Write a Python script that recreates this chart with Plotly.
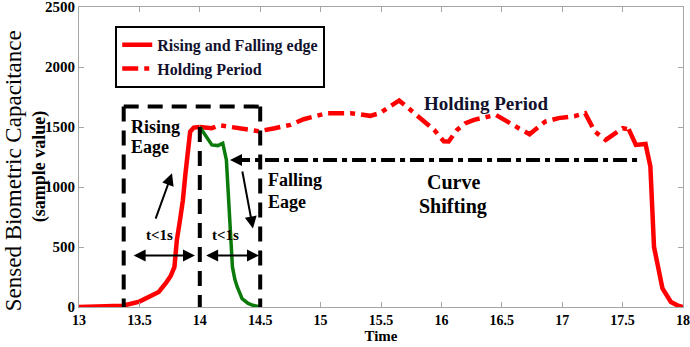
import plotly.graph_objects as go

# Rising edge (solid red)
rise_t = [13.0, 13.2, 13.36, 13.5, 13.58, 13.66, 13.72, 13.76, 13.79, 13.81, 13.84, 13.86, 13.88, 13.9, 13.92, 13.95, 14.0]
rise_v = [0, 2, 10, 45, 90, 125, 200, 260, 334, 557, 750, 890, 1100, 1310, 1460, 1495, 1500]

# Falling edge (green)
fall_t = [14.0, 14.05, 14.1, 14.15, 14.19, 14.22, 14.24, 14.26, 14.27, 14.29, 14.31, 14.35, 14.4, 14.44, 14.5]
fall_v = [1500, 1420, 1351, 1345, 1365, 1226, 891, 500, 334, 230, 167, 70, 30, 14, 0]

# Holding period (red dash-dot)
hold_t = [14.0, 14.1, 14.16, 14.33, 14.49, 14.62, 14.75, 14.86, 15.05, 15.25, 15.41, 15.49, 15.58, 15.65, 15.71,
          15.83, 15.94, 16.02, 16.06, 16.13, 16.2, 16.27, 16.45, 16.64, 16.73, 16.86, 16.97, 17.1, 17.19, 17.27,
          17.36, 17.5, 17.55]
hold_v = [1500, 1490, 1515, 1490, 1465, 1490, 1518, 1565, 1615, 1615, 1593, 1615, 1680, 1721, 1671,
          1574, 1476, 1380, 1379, 1476, 1532, 1560, 1601, 1490, 1440, 1545, 1574, 1590, 1615, 1462,
          1392, 1490, 1482]

# Final falling edge (solid red)
end_t = [17.55, 17.61, 17.69, 17.73, 17.76, 17.79, 17.83, 17.9, 17.96, 18.0]
end_v = [1482, 1351, 1359, 1170, 501, 334, 154, 42, 10, 0]

x_ticks = [13, 13.5, 14, 14.5, 15, 15.5, 16, 16.5, 17, 17.5, 18]
x_tick_labels = ["13", "13.5", "14", "14.5", "15", "15.5", "16", "16.5", "17", "17.5", "18"]
y_ticks = [0, 500, 1000, 1500, 2000, 2500]

RED = "#ff0000"
GREEN = "#0a7a0a"
NAVY = "#12122e"
FONT = "Liberation Serif, Times New Roman, DejaVu Serif, serif"

fig = go.Figure()
fig.add_trace(go.Scatter(x=rise_t, y=rise_v, mode="lines", line=dict(color=RED, width=4.5),
                         name="<b>Rising and Falling edge</b>", legendgroup="a"))
fig.add_trace(go.Scatter(x=hold_t, y=hold_v, mode="lines",
                         line=dict(color=RED, width=4.5, dash="16px,6px,5px,6px"),
                         name="<b>Holding Period</b>"))
fig.add_trace(go.Scatter(x=fall_t, y=fall_v, mode="lines", line=dict(color=GREEN, width=3.5),
                         showlegend=False))
fig.add_trace(go.Scatter(x=end_t, y=end_v, mode="lines", line=dict(color=RED, width=4.5),
                         showlegend=False, legendgroup="a"))

box_dash = "15px,9px"
shapes = [
    dict(type="line", x0=13.37, x1=14.5, y0=1670, y1=1670),
    dict(type="line", x0=13.37, x1=13.37, y0=1670, y1=0),
    dict(type="line", x0=14.5, x1=14.5, y0=1670, y1=0),
    dict(type="line", x0=14.0, x1=14.0, y0=1500, y1=0),
]
for s in shapes:
    s.update(xref="x", yref="y", line=dict(color="black", width=4, dash=box_dash), layer="above")
shapes.append(dict(type="line", xref="x", yref="y", x0=14.3, x1=17.65, y0=1226, y1=1226,
                   line=dict(color="black", width=4, dash="14px,5px,5px,5px"), layer="above"))
fig.update_layout(shapes=shapes)

ann = []
def txt(x, y, s, size=16, color="black", xanchor="left"):
    ann.append(dict(x=x, y=y, xref="x", yref="y", text="<b>" + s + "</b>", showarrow=False,
                    xanchor=xanchor, yanchor="middle", font=dict(family=FONT, size=size, color=color)))

def arrow(x, y, ax, ay, side="end"):
    ann.append(dict(x=x, y=y, ax=ax, ay=ay, xref="x", yref="y", axref="x", ayref="y", text="",
                    showarrow=True, arrowhead=2, arrowsize=1.2, arrowwidth=2, arrowcolor="black",
                    arrowside=side, startarrowhead=2, startarrowsize=1.2))

txt(13.41, 1504, "Rising", 18)
txt(13.41, 1337, "Eage", 18)
txt(14.55, 1058, "Falling", 18)
txt(14.55, 877, "Eage", 18)
txt(15.84, 1699, "Holding Period", 19, NAVY)
txt(16.1, 1044, "Curve", 20, xanchor="center")
txt(16.1, 835, "Shifting", 20, xanchor="center")
txt(13.67, 600, "t&lt;1s", 15, xanchor="center")
txt(14.21, 600, "t&lt;1s", 15, xanchor="center")

arrow(13.96, 429, 13.44, 429, "end+start")
arrow(14.49, 429, 14.04, 429, "end+start")
arrow(13.77, 1114, 13.63, 724)
arrow(14.44, 655, 14.35, 1142)
arrow(14.25, 1226, 14.4, 1226)

# y-axis title as two rotated lines
ann.append(dict(x=-0.108, y=0.455, xref="paper", yref="paper", text="Sensed Biometric Capacitance",
                textangle=-90, showarrow=False, xanchor="center", yanchor="middle",
                font=dict(family=FONT, size=23, color="black")))
ann.append(dict(x=-0.066, y=0.47, xref="paper", yref="paper", text="<b>(sample value)</b>",
                textangle=-90, showarrow=False, xanchor="center", yanchor="middle",
                font=dict(family=FONT, size=18, color="black")))
fig.update_layout(annotations=ann)

axis_common = dict(showline=True, linecolor="#a6a6a6", linewidth=1, mirror="ticks", ticks="inside",
                   tickcolor="#a6a6a6", ticklen=5, showgrid=False, zeroline=False, automargin=False,
                   ticklabeloverflow="allow")
fig.update_xaxes(range=[13, 18], tickvals=x_ticks, ticktext=["<b>%s</b>" % t for t in x_tick_labels],
                 tickfont=dict(family=FONT, size=14, color="black"),
                 title=dict(text="<b>Time</b>", font=dict(family=FONT, size=15, color="black"), standoff=0),
                 **axis_common)
fig.update_yaxes(range=[0, 2500], tickvals=y_ticks, ticktext=["<b>%d</b>" % v for v in y_ticks],
                 tickfont=dict(family=FONT, size=15, color="black"),
                 **axis_common)

fig.update_layout(
    width=690, height=347, margin=dict(l=79, r=7, t=7, b=40, autoexpand=False),
    plot_bgcolor="white", paper_bgcolor="white",
    legend=dict(x=0.06, y=0.937, xanchor="left", yanchor="top", bgcolor="white",
                bordercolor="black", borderwidth=2,
                font=dict(family=FONT, size=16, color=NAVY), tracegroupgap=0,
                itemwidth=30),
    showlegend=True,
)

fig.write_html("out.html", config={"displayModeBar": False},
               post_script="document.body.style.margin='0';document.body.style.padding='0';")
